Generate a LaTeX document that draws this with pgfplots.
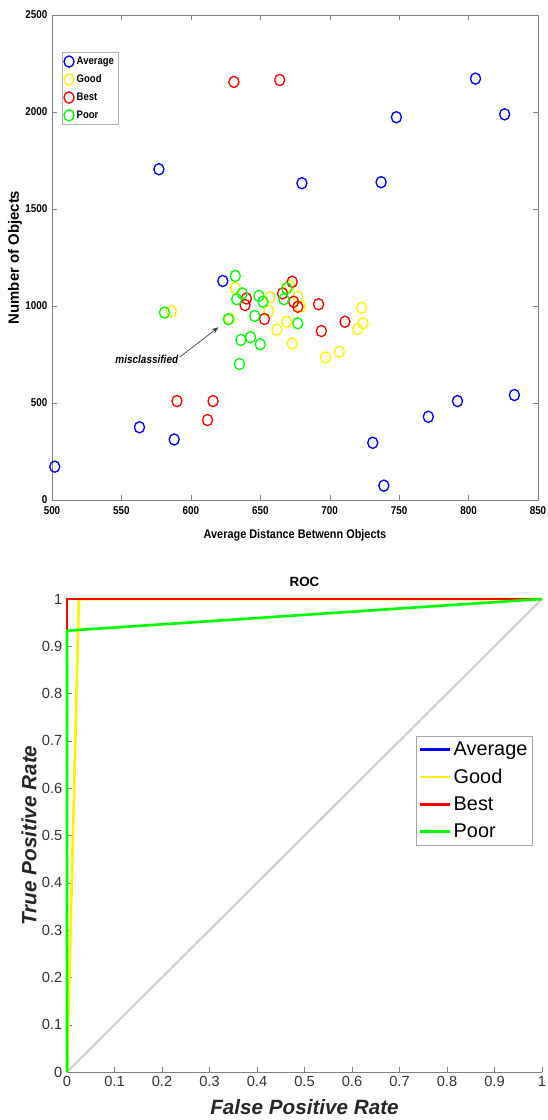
\documentclass[border=0pt]{standalone}
\usepackage{fontspec}
\setmainfont{Liberation Sans}
\newfontfamily\narrow[FakeStretch=0.87]{Liberation Sans}
\usepackage{pgfplots}
\pgfplotsset{compat=1.18}
\usetikzlibrary{arrows.meta}

% scatter data: distance, number of objects
\pgfplotstableread{
x y
502 172
563 375
588 312
623 1129
577 1705
805 2172
826 1988
748 1973
680 1633
737 1638
731 295
739 74
771 429
792 510
833 541
}\avgdata
\pgfplotstableread{
x y
586 973
628 935
632 1093
657 1045
656 975
662 878
669 919
673 807
677 1048
679 996
671 1105
697 735
707 764
723 991
724 911
720 881
}\gooddata
\pgfplotstableread{
x y
631 2155
664 2165
590 510
616 510
612 412
640 1039
639 1005
653 933
673 1125
666 1065
674 1022
677 996
692 1009
694 871
711 919
}\bestdata
\pgfplotstableread{
x y
581 966
627 932
632 1155
633 1035
637 1065
636 825
635 701
643 839
646 949
650 803
649 1052
652 1022
669 1091
667 1035
677 911
}\poordata

\begin{document}
\begin{tikzpicture}
\path[use as bounding box] (0,0) rectangle (410.25pt,-840pt);

\begin{axis}[
  at={(39pt,-11.25pt)}, anchor=north west,
  scale only axis, width=364.5pt, height=363.75pt,
  xmin=500, xmax=850, ymin=0, ymax=2500,
  xtick={500,550,...,850}, ytick={0,500,...,2500},
  tick align=inside, major tick length=4pt,
  axis line style={gray}, tick style={gray},
  /pgf/number format/assume math mode=true,
  /pgf/number format/1000 sep={},
  ticklabel style={font=\narrow\bfseries\fontsize{8.5}{10}\selectfont},
  xticklabel style={yshift=-1.2pt},
  xlabel={Average Distance Betwenn Objects},
  ylabel={Number of Objects},
  xlabel style={font=\narrow\bfseries\fontsize{9.4}{11}\selectfont,
    at={(axis description cs:0.5,-0.072)}, anchor=center},
  ylabel style={font=\bfseries\fontsize{11.2}{13}\selectfont,
    at={(axis description cs:-0.076,0.5)}, anchor=center},
  legend style={at={(0.02,0.924)}, anchor=north west, draw=gray!60,
    font=\narrow\bfseries\fontsize{8.2}{9.5}\selectfont, row sep=2.2pt, inner sep=1.5pt},
  legend cell align=left,
  every axis plot/.append style={only marks, mark=o, mark size=4.2pt, line width=1pt,
    mark options={xscale=0.9}},
]
\addplot[blue] table {\avgdata};
\addplot[yellow] table {\gooddata};
\addplot[red] table {\bestdata};
\addplot[green] table {\poordata};
\legend{Average, Good, Best, Poor}
\draw[-{Stealth[length=5pt,width=4pt]}, black!75, line width=0.5pt]
  (axis cs:592,737) -- (axis cs:619.8,890);
\node[anchor=east, inner sep=1pt, font=\narrow\bfseries\itshape\fontsize{8.6}{10}\selectfont]
  at (axis cs:592,727) {misclassified};
\end{axis}

\begin{axis}[
  at={(50.25pt,-449.25pt)}, anchor=north west,
  scale only axis, width=356.25pt, height=354.75pt,
  xmin=0, xmax=1, ymin=0, ymax=1,
  xtick={0,0.1,0.2,0.3,0.4,0.5,0.6,0.7,0.8,0.9,1},
  ytick={0,0.1,0.2,0.3,0.4,0.5,0.6,0.7,0.8,0.9,1},
  axis x line*=bottom, axis y line*=left,
  tick align=inside, major tick length=4pt,
  axis line style={gray}, tick style={gray},
  clip=false,
  /pgf/number format/assume math mode=true,
  ticklabel style={font=\fontsize{11}{13}\selectfont, text=black!80},
  title={ROC},
  title style={font=\bfseries\fontsize{10}{12}\selectfont, at={(axis description cs:0.5,1.02)}, anchor=center},
  xlabel={False Positive Rate}, ylabel={True Positive Rate},
  label style={font=\bfseries\itshape\fontsize{15.5}{18}\selectfont, text=black!85},
  xlabel style={at={(axis description cs:0.5,-0.074)}, anchor=center},
  ylabel style={at={(axis description cs:-0.08,0.5)}, anchor=center},
  legend style={at={(0.735,0.71)}, anchor=north west, draw=gray!70,
    font=\fontsize{14.9}{17}\selectfont, row sep=4.6pt, inner sep=2pt},
  legend cell align=left,
  legend image code/.code={\draw[#1] (0pt,0pt) -- (22pt,0pt);},
]
\addplot[gray!40, line width=1.5pt, forget plot] coordinates {(0,0) (1,1)};
\addplot[blue, line width=2pt] coordinates {(0,0) (0,1) (1,1)};
\addplot[yellow, line width=2pt] coordinates {(0,0) (0.025,1) (1,1)};
\addplot[red, line width=2pt] coordinates {(0,0) (0,1) (1,1)};
\addplot[green, line width=2pt] coordinates {(0,0) (0,0.933) (1,1)};
\legend{Average, Good, Best, Poor}
\end{axis}
\end{tikzpicture}
\end{document}
